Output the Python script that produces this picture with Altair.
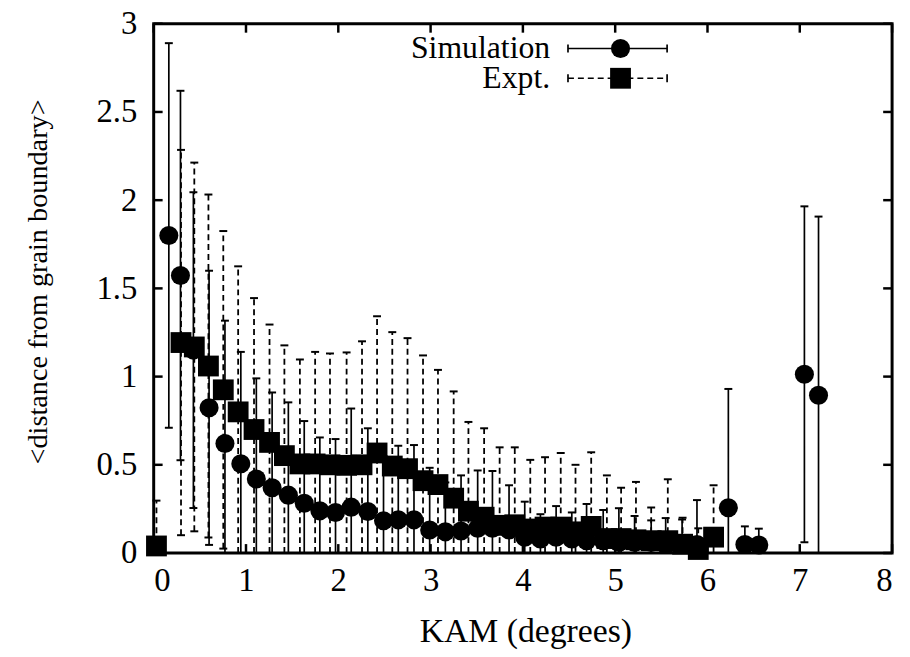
import altair as alt
import pandas as pd

# ---- data ----
sim_x = [0.164, 0.29, 0.43, 0.60, 0.772, 0.944, 1.112, 1.283, 1.459, 1.631, 1.80, 1.97, 2.14,
         2.32, 2.49, 2.65, 2.82, 2.99, 3.16, 3.33, 3.51, 3.67, 3.85, 4.02, 4.19, 4.36, 4.53,
         4.69, 4.87, 5.04, 5.21, 5.39, 5.547, 5.725, 5.886, 6.226, 6.405, 6.556, 7.05, 7.203]
sim_y = [1.80, 1.573, 1.15, 0.823, 0.621, 0.506, 0.42, 0.37, 0.328, 0.282, 0.239, 0.23, 0.26,
         0.235, 0.183, 0.188, 0.188, 0.13, 0.12, 0.125, 0.14, 0.14, 0.13, 0.09, 0.08, 0.09, 0.08,
         0.07, 0.07, 0.06, 0.06, 0.06, 0.048, 0.05, 0.048, 0.257, 0.048, 0.045, 1.013, 0.894]
sim_err = [1.09, 1.047, 0.895, 0.777, 0.696, 0.634, 0.57, 0.54, 0.526, 0.466, 0.416, 0.416, 0.559,
           0.472, 0.367, 0.42, 0.424, 0.353, 0.28, 0.315, 0.328, 0.325, 0.254, 0.201, 0.14, 0.176,
           0.15, 0.208, 0.174, 0.194, 0.15, 0.125, 0.15, 0.14, 0.252, 0.673, 0.103, 0.093, 0.952, 1.013]

exp_x = [0.03, 0.296, 0.44, 0.593, 0.754, 0.915, 1.087, 1.255, 1.416, 1.584, 1.749, 1.91, 2.09,
         2.257, 2.42, 2.585, 2.75, 2.918, 3.08, 3.25, 3.41, 3.58, 3.748, 3.912, 4.08, 4.24, 4.41,
         4.57, 4.74, 4.91, 5.064, 5.225, 5.39, 5.57, 5.73, 5.90, 6.066]
exp_y = [0.04, 1.193, 1.168, 1.06, 0.925, 0.80, 0.70, 0.627, 0.552, 0.505, 0.505, 0.50, 0.497,
         0.50, 0.567, 0.493, 0.478, 0.41, 0.388, 0.311, 0.237, 0.203, 0.157, 0.16, 0.136, 0.147,
         0.147, 0.12, 0.151, 0.082, 0.082, 0.075, 0.07, 0.07, 0.05, 0.02, 0.09]
exp_err = [0.257, 1.092, 1.045, 0.972, 0.90, 0.825, 0.745, 0.668, 0.625, 0.592, 0.635, 0.631, 0.64,
           0.70, 0.775, 0.759, 0.74, 0.71, 0.65, 0.605, 0.506, 0.504, 0.442, 0.439, 0.392, 0.396,
           0.42, 0.38, 0.42, 0.358, 0.288, 0.328, 0.188, 0.348, 0.15, 0.12, 0.294]

x_ticks = [0, 1, 2, 3, 4, 5, 6, 7, 8]
y_ticks = [0, 0.5, 1, 1.5, 2, 2.5, 3]
legend_labels = ["Simulation", "Expt."]

W, H = 745, 534
FONT = "Liberation Serif, Times New Roman, DejaVu Serif, serif"
DASH = [6, 4]


def frame(xs, ys, errs):
    df = pd.DataFrame({"x": xs, "y": ys, "err": errs})
    df["lo"] = (df["y"] - df["err"]).clip(lower=0)
    df["hi"] = (df["y"] + df["err"]).clip(upper=3)
    return df


sim = frame(sim_x, sim_y, sim_err)
exp = frame(exp_x, exp_y, exp_err)

xs = alt.Scale(domain=[0, 8], nice=False, zero=False)
ys = alt.Scale(domain=[0, 3], nice=False, zero=False)
xaxis = alt.Axis(values=x_ticks, format="~g", labelFont=FONT, labelFontSize=33, labelColor="black",
                 labelPadding=12, tickSize=0, ticks=False, domain=False, grid=False,
                 titleFont=FONT, titleFontSize=34, titleFontWeight="normal", titleColor="black",
                 titleX=375, titleY=79, titleBaseline="middle", titleAlign="center")
yaxis = alt.Axis(values=y_ticks, format="~g", labelFont=FONT, labelFontSize=33, labelColor="black",
                 labelPadding=17, tickSize=0, ticks=False, domain=False, grid=False,
                 titleFont=FONT, titleFontSize=28.5, titleFontWeight="normal", titleColor="black",
                 titleX=-117, titleY=260, titleAngle=-90, titleBaseline="middle", titleAlign="center")
X = alt.X("x:Q", scale=xs, axis=xaxis, title="KAM (degrees)")
Y = alt.Y("y:Q", scale=ys, axis=yaxis, title="<distance from grain boundary>")
Ylo = alt.Y("lo:Q", scale=ys, axis=yaxis, title="<distance from grain boundary>")
Yhi = alt.Y("hi:Q", scale=ys, axis=yaxis, title="<distance from grain boundary>")

CAP = "M-1,0L1,0"


def series(df, dashed, shape, size):
    dash = DASH if dashed else [1, 0]
    width = 1.8 if dashed else 1.7
    bars = alt.Chart(df).mark_rule(color="black", strokeWidth=width, strokeDash=dash).encode(
        x=X, y=Ylo, y2=alt.Y2("hi:Q"))
    top = df[df["y"] + df["err"] <= 3]
    bot = df[df["y"] - df["err"] >= 0]
    capt = alt.Chart(top).mark_point(shape=CAP, size=64, filled=False, color="black",
                                     strokeWidth=2, opacity=1).encode(x=X, y=Yhi)
    capb = alt.Chart(bot).mark_point(shape=CAP, size=64, filled=False, color="black",
                                     strokeWidth=2, opacity=1).encode(x=X, y=Ylo)
    pts = alt.Chart(df).mark_point(shape=shape, size=size, filled=True, color="black",
                                   opacity=1).encode(x=X, y=Y)
    return [bars, capt, capb, pts]


layers = []
layers += series(sim, False, "circle", 370)
layers += series(exp, True, "square", 441)

# inward ticks on all four sides
xt = pd.DataFrame({"x": x_ticks})
yt = pd.DataFrame({"y": y_ticks})
layers.append(alt.Chart(xt).mark_rule(color="black", strokeWidth=2.5).encode(
    x=X, y=alt.value(H), y2=alt.value(H - 9)))
layers.append(alt.Chart(xt).mark_rule(color="black", strokeWidth=2.5).encode(
    x=X, y=alt.value(0), y2=alt.value(9)))
layers.append(alt.Chart(yt).mark_rule(color="black", strokeWidth=2.5).encode(
    y=Y, x=alt.value(0), x2=alt.value(9)))
layers.append(alt.Chart(yt).mark_rule(color="black", strokeWidth=2.5).encode(
    y=Y, x=alt.value(W - 9), x2=alt.value(W)))

# key (gnuplot style, text left of the sample)
rows = [25, 55]
for i, lab in enumerate(legend_labels):
    yv = rows[i]
    dash = DASH if i == 1 else [1, 0]
    d = pd.DataFrame({"label": [lab]})
    layers.append(alt.Chart(d).mark_text(font=FONT, fontSize=32, align="right", baseline="middle",
                                         color="black").encode(
        text="label:N", x=alt.value(400), y=alt.value(yv)))
    layers.append(alt.Chart(d).mark_rule(color="black", strokeWidth=1.7, strokeDash=dash).encode(
        x=alt.value(418), x2=alt.value(518), y=alt.value(yv)))
    for cx in (418, 518):
        layers.append(alt.Chart(d).mark_rule(color="black", strokeWidth=1.7).encode(
            x=alt.value(cx), y=alt.value(yv - 4), y2=alt.value(yv + 4)))
    layers.append(alt.Chart(d).mark_point(shape="circle" if i == 0 else "square",
                                          size=370 if i == 0 else 441, filled=True,
                                          color="black", opacity=1).encode(
        x=alt.value(471), y=alt.value(yv)))

chart = alt.layer(*layers).properties(
    width=W, height=H,
    padding={"left": 147, "top": 13, "right": 10, "bottom": 100},
    autosize=alt.AutoSizeParams(type="none"),
    background="white",
).configure(font=FONT).configure_view(stroke="black", strokeWidth=3).configure_text(
    font=FONT).configure_axis(labelFont=FONT, titleFont=FONT)

chart.save("out.html", embed_options={"renderer": "svg", "actions": False})
